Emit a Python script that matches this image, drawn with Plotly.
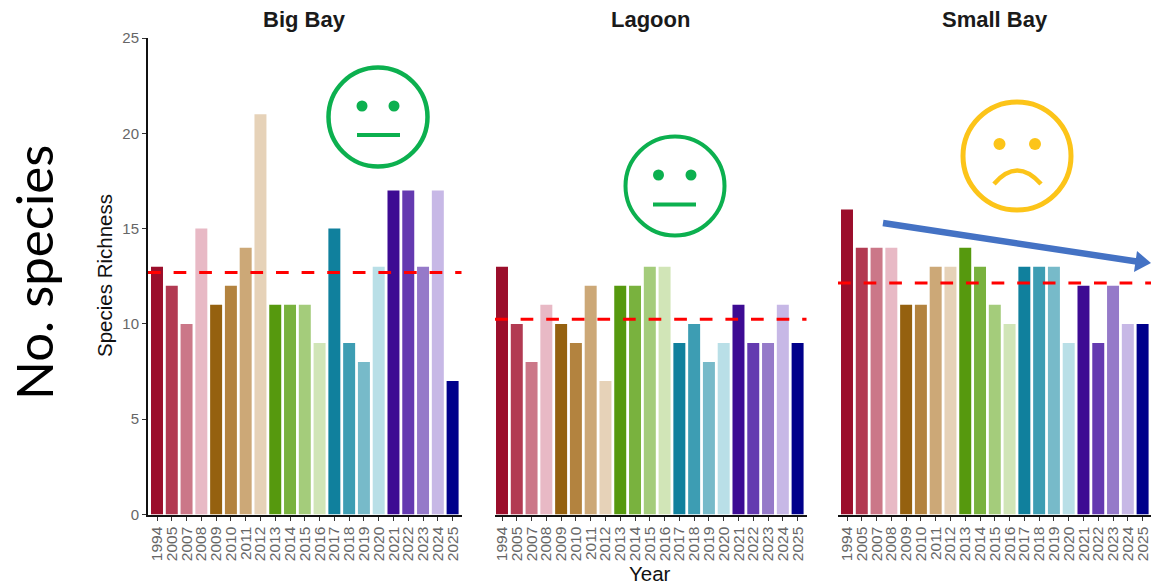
import plotly.graph_objects as go

W, H = 1151, 587
years = ["1994","2005","2007","2008","2009","2010","2011","2012","2013","2014","2015",
         "2016","2017","2018","2019","2020","2021","2022","2023","2024","2025"]
colors = ["#9B0E2B","#B23A52","#CB7788","#E8B9C5","#95610F","#B3833F","#CCA877","#E6D2B8",
          "#56990E","#79B23E","#A4CC7B","#D1E5B7","#10809D","#3D9DB3","#77BAC9","#B9DFE7",
          "#3D0B93","#643AB0","#957AC9","#C7B8E6","#00008B"]
big_bay = [13,12,10,15,11,12,14,21,11,11,11,9,15,9,8,13,17,17,13,17,7]
lagoon = [13,10,8,11,10,9,12,7,12,12,13,13,9,10,8,9,11,9,9,11,9]
small_bay = [16,14,14,14,11,11,13,13,14,13,11,10,13,13,13,9,12,9,12,10,10]
panels = ["Big Bay", "Lagoon", "Small Bay"]
means = [12.7, 10.25, 12.15]
series = [big_bay, lagoon, small_bay]
title_x = [304.5, 650, 995]
axis_px = [(148, 461.5), (495, 806.5), (838, 1151)]
first_px = [157, 502, 847]
step = 14.78
y_top, y_bot = 38, 514.5

def X(p): return p / W
def Y(p): return 1 - p / H

fig = go.Figure()
layout = {}
for i, (name, vals, mean) in enumerate(zip(panels, series, means)):
    n = "" if i == 0 else str(i + 1)
    fig.add_trace(go.Bar(x=years, y=vals, marker=dict(color=colors, line=dict(width=0)),
                         width=0.81, xaxis="x" + n, yaxis="y" + n, showlegend=False))
    a, b = axis_px[i]
    layout["xaxis" + n] = dict(domain=[X(a), X(b)], anchor="y" + n, type="category", automargin=False,
        categoryorder="array", categoryarray=years,
        range=[(a - first_px[i]) / step, (b - first_px[i]) / step],
        showline=True, linecolor="#111111", linewidth=2, ticks="outside", ticklen=4, tickwidth=1.3,
        tickcolor="#333333", tickangle=-90, showgrid=False, zeroline=False,
        tickfont=dict(family="Liberation Sans", size=15.5, color="#666666"), tickmode="array",
        tickvals=years, ticktext=years)
    layout["yaxis" + n] = dict(domain=[Y(y_bot), Y(y_top)], anchor="x" + n, range=[0, 25], automargin=False,
        showgrid=False, zeroline=False, tickvals=[0, 5, 10, 15, 20, 25],
        showline=i == 0, linecolor="#111111", linewidth=2,
        ticks="outside" if i == 0 else "", ticklen=4, tickwidth=1.3, tickcolor="#333333",
        showticklabels=i == 0,
        tickfont=dict(family="Liberation Sans", size=15, color="#666666"))
    fig.add_shape(type="line", xref="x%s domain" % n, yref="y" + n, x0=0, x1=1, y0=mean, y1=mean,
                  line=dict(color="#FF0000", width=3, dash="12.7px,12.9px"), layer="above")

def circle(cx, cy, r, color, width=None):
    d = dict(type="circle", xref="paper", yref="paper", x0=X(cx - r), x1=X(cx + r),
             y0=Y(cy + r), y1=Y(cy - r))
    if width:
        d.update(line=dict(color=color, width=width), fillcolor="rgba(0,0,0,0)")
    else:
        d.update(line=dict(width=0), fillcolor=color)
    fig.add_shape(**d)

def path(points, color, width, q=False):
    if q:
        (x0, y0), (x1, y1), (x2, y2) = points
        s = f"M{X(x0)},{Y(y0)} Q{X(x1)},{Y(y1)} {X(x2)},{Y(y2)}"
    else:
        s = "M" + " L".join(f"{X(x)},{Y(y)}" for x, y in points)
    fig.add_shape(type="path", xref="paper", yref="paper", path=s,
                  line=dict(color=color, width=width), fillcolor="rgba(0,0,0,0)")

GREEN, YELLOW, BLUE = "#0CB04F", "#FCC419", "#4472C4"
circle(378, 117, 49.5, GREEN, 4.5)
circle(362, 106, 5.5, GREEN); circle(394, 106, 5.5, GREEN)
path([(357, 135), (400, 135)], GREEN, 4)
circle(675, 186, 49.5, GREEN, 4)
circle(658.5, 175, 5.5, GREEN); circle(691, 175, 5.5, GREEN)
path([(653, 204.5), (696, 204.5)], GREEN, 4)
circle(1017, 156, 54, YELLOW, 5)
circle(999.5, 144, 6, YELLOW); circle(1035, 144, 6, YELLOW)
path([(994, 184), (1017, 157), (1041, 184)], YELLOW, 4.5, q=True)
path([(883, 223), (1140, 262)], BLUE, 6.5)
fig.add_shape(type="path", xref="paper", yref="paper",
              path=f"M{X(1137)},{Y(251)} L{X(1151)},{Y(263)} L{X(1134)},{Y(272)} Z",
              line=dict(width=0), fillcolor=BLUE)

anns = [dict(x=X(tx), y=Y(19), text=f"<b>{t}</b>", xanchor="center", yanchor="middle",
             font=dict(family="Liberation Sans", size=22, color="#1A1A1A"))
        for t, tx in zip(panels, title_x)]
anns += [
    dict(x=X(105), y=Y(276), text="Species Richness", textangle=-90, xanchor="center", yanchor="middle",
         font=dict(family="Liberation Sans", size=20.5, color="#111111")),
    dict(x=X(649.5), y=Y(573), text="Year", xanchor="center", yanchor="middle",
         font=dict(family="Liberation Sans", size=20.5, color="#111111")),
    dict(x=X(33), y=Y(273), text="No. species", textangle=-90, xanchor="center", yanchor="middle",
         font=dict(family="Lato", size=51, color="#000000")),
]
for a in anns:
    a.update(xref="paper", yref="paper", showarrow=False)

fig.update_layout(width=W, height=H, margin=dict(l=0, r=0, t=0, b=0, autoexpand=False), paper_bgcolor="white",
                  plot_bgcolor="white", annotations=anns, bargap=0.19, **layout)
fig.write_html("out.html", post_script="document.body.style.margin='0';",
               config={"displayModeBar": False})
